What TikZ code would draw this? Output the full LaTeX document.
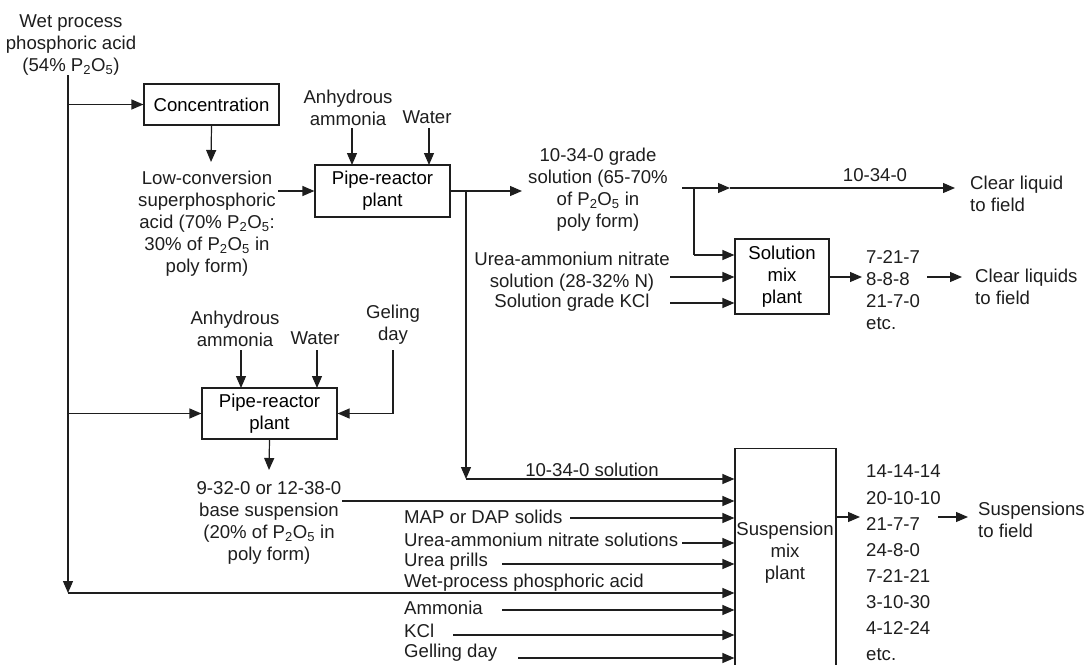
\documentclass[tikz,border=0pt]{standalone}
\usepackage{fontspec}
\setmainfont{Liberation Sans}
\usetikzlibrary{arrows.meta,calc}
\newcommand{\PO}{P\textsubscript{2}O\textsubscript{5}}
\definecolor{ink}{RGB}{30,30,30}
\tikzset{
  box/.style={draw=ink, line width=1.2pt, align=center, inner sep=0pt},
  txt/.style={align=center, inner sep=0pt, text=ink},
  ltxt/.style={align=left, inner sep=0pt, text=ink},
  arr/.style={draw=ink, line width=1.2pt, -{Triangle[length=12pt,width=10pt]}},
  ln/.style={draw=ink, line width=1.2pt},
}
\begin{document}
\begin{tikzpicture}[x=1pt,y=-1pt,font=\fontsize{18.6}{22}\selectfont]
\useasboundingbox (0,0) rectangle (1092,664);
\clip (0,0) rectangle (1092,664);
% top source
\node[txt] (src) at (71,45) {Wet process\\phosphoric acid\\(54\% \PO)};
\coordinate (vtop) at (68,75);
\coordinate (vbot) at (68,593);
\node[box, minimum width=135pt, minimum height=41pt] (conc) at (211.5,104.5) {Concentration};
\node[txt] (aa1) at (348,108) {Anhydrous\\ammonia};
\node[txt] (w1) at (427,117) {Water};
\node[box, minimum width=135pt, minimum height=52pt] (pr1) at (382.5,191) {Pipe-reactor\\plant};
\node[txt] (lc) at (207,224) {Low-conversion\\superphosphoric\\acid (70\% \PO:\\30\% of \PO{} in\\poly form)};
\node[txt] (g1) at (598,190) {10-34-0 grade\\solution (65-70\%\\of \PO{} in\\poly form)};
\node[txt] (l10) at (875,175) {10-34-0};
\node[ltxt, anchor=west] (clr1) at (970,194) {Clear liquid\\to field};
\node[box, minimum width=94pt, minimum height=75pt] (sol) at (782,276.5) {Solution\\mix\\plant};
\node[txt] (uan1) at (572,272) {Urea-ammonium nitrate\\solution (28-32\% N)};
\node[txt] (kcl1) at (572,303) {Solution grade KCl};
\node[ltxt, anchor=west] (g2) at (866,290) {7-21-7\\8-8-8\\21-7-0\\etc.};
\node[ltxt, anchor=west] (clr2) at (975,287) {Clear liquids\\to field};
% second reactor
\node[txt] (aa2) at (235,329) {Anhydrous\\ammonia};
\node[txt] (w2) at (315,338) {Water};
\node[txt] (gel) at (393,325) {Geling\\day};
\node[box, minimum width=135pt, minimum height=51pt] (pr2) at (269.5,413.5) {Pipe-reactor\\plant};
\node[txt] (bs) at (269,523) {9-32-0 or 12-38-0\\base suspension\\(20\% of \PO{} in\\poly form)};
% suspension plant
\node[draw=ink, line width=1.2pt, minimum width=101pt, minimum height=240pt, anchor=north, inner sep=0pt] (sus) at (785.5,448) {};
\node[txt] (sust) at (785,553) {Suspension\\mix\\plant};
\node[txt] (s1034) at (592,470) {10-34-0 solution};
\node[ltxt, anchor=west] (map) at (404,517) {MAP or DAP solids};
\node[ltxt, anchor=west] (uan2) at (404,540) {Urea-ammonium nitrate solutions};
\node[ltxt, anchor=west] (urea) at (404,562) {Urea prills};
\node[ltxt, anchor=west] (wet) at (404,583) {Wet-process phosphoric acid};
\node[ltxt, anchor=west] (amm) at (404,608) {Ammonia};
\node[ltxt, anchor=west] (kcl2) at (404,631) {KCl};
\node[ltxt, anchor=west] (gd) at (404,653) {Gelling day};
\node[ltxt, anchor=west, font=\fontsize{18.6}{26.1}\selectfont] (g3) at (866,563) {14-14-14\\20-10-10\\21-7-7\\24-8-0\\7-21-21\\3-10-30\\4-12-24\\etc.};
\node[ltxt, anchor=west] (susf) at (978,520) {Suspensions\\to field};

% connectors
\draw[arr] (vtop) -- (vbot);
\draw[arr] (vbot) -- (sus.west |- vbot);
\draw[arr] (68,104.5) -- (conc.west);
\draw[arr] (68,413.5) -- (pr2.west);
\draw[arr] (conc.south) -- (211,162);
\draw[arr] (352,128) -- (352,165);
\draw[arr] (429,128) -- (429,165);
\draw[arr] (278,191) -- (pr1.west);
\draw[arr] (pr1.east) -- (522,191);
\draw[arr] (466,191) -- (466,479);
\draw[arr] (466,479) -- (sus.west |- 466,479);
\draw[arr] (682,188) -- (730,188);
\draw[arr] (730,188) -- (955,188);
\draw[ln] (694,188) -- (694,255);
\draw[arr] (694,255) -- (sol.west |- 694,255);
\draw[arr] (670,277) -- (sol.west |- 670,277);
\draw[arr] (670,303) -- (sol.west |- 670,303);
\draw[arr] (sol.east |- 829,277) -- (862,277);
\draw[arr] (927,277) -- (962,277);
% second reactor connectors
\draw[arr] (241,350) -- (241,388);
\draw[arr] (317,350) -- (317,388);
\draw[ln] (393,350) -- (393,413.5);
\draw[arr] (393,413.5) -- (pr2.east);
\draw[arr] (pr2.south) -- (269,470);
\draw[arr] (342,501) -- (sus.west |- 342,501);
% suspension inputs
\draw[arr] (570,518) -- (sus.west |- 570,518);
\draw[arr] (682,543) -- (sus.west |- 682,543);
\draw[arr] (502,564) -- (sus.west |- 502,564);
\draw[arr] (502,610) -- (sus.west |- 502,610);
\draw[arr] (453,635) -- (sus.west |- 453,635);
\draw[arr] (518,658) -- (sus.west |- 518,658);
\draw[arr] (sus.east |- 836,517) -- (860,517);
\draw[arr] (938,517) -- (968,517);
\end{tikzpicture}
\end{document}
